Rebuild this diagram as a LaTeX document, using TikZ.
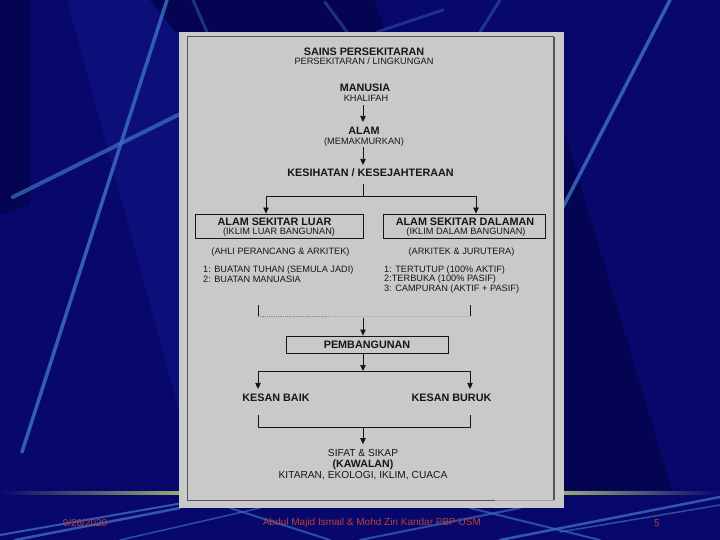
\documentclass[tikz,border=0pt]{standalone}
\usepackage{fontspec}
\setmainfont{Liberation Sans}
\usetikzlibrary{arrows.meta}
\definecolor{bg}{RGB}{8,8,108}
\definecolor{bgdark}{RGB}{4,4,82}
\definecolor{bglight}{RGB}{12,14,122}
\definecolor{streak}{RGB}{58,108,188}
\definecolor{panel}{RGB}{201,201,201}
\definecolor{frame}{RGB}{85,85,85}
\definecolor{ink}{RGB}{22,22,22}
\definecolor{olive}{RGB}{150,170,112}
\definecolor{foot}{RGB}{185,64,58}
\tikzset{
  hb/.style={font=\fontsize{10.8}{12}\selectfont\bfseries, inner sep=0pt, text height=7.7pt, text depth=0pt, text=ink},
  hr/.style={font=\fontsize{9.2}{10}\selectfont, inner sep=0pt, text height=6.6pt, text depth=0pt, text=ink},
  hrb/.style={font=\fontsize{10.2}{11}\selectfont, inner sep=0pt, text height=7.3pt, text depth=0pt, text=ink},
  hbb/.style={font=\fontsize{10.6}{11}\selectfont\bfseries, inner sep=0pt, text height=7.6pt, text depth=0pt, text=ink},
  boxed/.style={draw=ink, line width=0.8pt, inner sep=0pt},
  conn/.style={draw=ink, line width=0.8pt},
  arr/.style={conn, -{Triangle[length=6pt,width=5.5pt]}},
  streakline/.style={draw=streak, line cap=round},
  foottext/.style={font=\fontsize{10}{11}\selectfont, text=foot, inner sep=0pt}
}
\begin{document}
\begin{tikzpicture}[x=1pt,y=-1pt]
\useasboundingbox (0,0) rectangle (720,540);
% background
\fill[bg] (0,0) rectangle (720,540);
\fill[bglight] (67,0) -- (180,0) -- (180,414) -- cycle;
\fill[bgdark] (150,0) -- (375,0) -- (385,32) -- (175,32) -- cycle;
\fill[bgdark] (0,0) -- (30,0) -- (30,205) -- (0,215) -- cycle;
\fill[bgdark] (564,130) -- (672,490) -- (564,490) -- cycle;
% streaks
\draw[streakline, line width=3.5pt, opacity=0.85] (167,0) -- (22,452);
\draw[streakline, line width=4pt, opacity=0.75] (13,197) -- (180,114);
\draw[streakline, line width=3.5pt, opacity=0.85] (670,0) -- (563,207);
\draw[streakline, line width=3pt, opacity=0.45] (193,0) -- (207,32);
\draw[streakline, line width=3pt, opacity=0.45] (325,2) -- (347,32);
\draw[streakline, line width=3pt, opacity=0.4] (443,10) -- (377,32);
\draw[streakline, line width=3pt, opacity=0.45] (500,0) -- (480,32);
\draw[streakline, line width=2pt, opacity=0.8] (0,535) -- (200,500);
\draw[streakline, line width=2.5pt, opacity=0.8] (15,540) -- (180,508);
\draw[streakline, line width=1.5pt, opacity=0.7] (120,540) -- (260,508);
\draw[streakline, line width=2pt, opacity=0.7] (330,540) -- (230,508);
\draw[streakline, line width=2pt, opacity=0.7] (360,540) -- (520,508);
\draw[streakline, line width=2pt, opacity=0.7] (600,540) -- (470,508);
\draw[streakline, line width=2.5pt, opacity=0.8] (500,540) -- (720,497);
\draw[streakline, line width=1.5pt, opacity=0.7] (560,532) -- (720,505);
% footer rule
\shade[left color=bg, right color=olive] (0,491.5) rectangle (180,494.5);
\shade[left color=olive, right color=bg] (564,491.5) rectangle (720,494.5);
% panel
\fill[panel] (179,32) rectangle (564,508);
\draw[frame, line width=1pt] (495,500) -- (187,500) -- (187,37) -- (554,37);
\draw[frame, line width=1.8pt] (554,37) -- (554,500);
\draw[frame!35!panel, line width=1pt] (495,500) -- (554,500);
% content
\coordinate (ax) at (363,0);
\node[hb] (title) at (364,51.5) {SAINS PERSEKITARAN};
\node[hr] (sub) at (364,61.5) {PERSEKITARAN / LINGKUNGAN};
\node[hb] (manusia) at (365,88) {MANUSIA};
\node[hr] (khalifah) at (366,98.5) {KHALIFAH};
\node[hb] (alam) at (364,131) {ALAM};
\node[hr] (memak) at (364,141) {(MEMAKMURKAN)};
\node[hb] (kes) at (370.5,173) {KESIHATAN / KESEJAHTERAAN};
\draw[arr, shorten >=5pt] ([yshift=-3.5pt]khalifah.south -| ax) -- (alam.north -| ax);
\draw[arr, shorten >=4pt] ([yshift=-3pt]memak.south -| ax) -- (kes.north -| ax);
% split 1
\coordinate (jl) at (266,196);
\coordinate (jr) at (476,196);
\node[boxed, minimum width=168pt, minimum height=24pt] (luar) at (279,226) {};
\node[boxed, minimum width=162pt, minimum height=24pt] (dalam) at (464,226) {};
\draw[conn] ([yshift=-7pt]kes.south -| ax) -- (ax |- jl);
\draw[conn] (jl) -- (jr);
\draw[arr] (jl) -- (jl |- luar.north);
\draw[arr] (jr) -- (jr |- dalam.north);
\node[hb] (luar1) at (274.5,222) {ALAM SEKITAR LUAR};
\node[hr] (luar2) at (279,231.5) {(IKLIM LUAR BANGUNAN)};
\node[hb] (dal1) at (465,222) {ALAM SEKITAR DALAMAN};
\node[hr] (dal2) at (466,231.5) {(IKLIM DALAM BANGUNAN)};
\node[hr] (ahli) at (280.5,251.5) {(AHLI PERANCANG \& ARKITEK)};
\node[hr] (arkj) at (461.5,251.5) {(ARKITEK \& JURUTERA)};
\node[hr, anchor=west] (l1) at (203,269) {1: BUATAN TUHAN (SEMULA JADI)};
\node[hr, anchor=west] (l2) at (203,279) {2: BUATAN MANUASIA};
\node[hr, anchor=west] (r1) at (384,269) {1: TERTUTUP (100\% AKTIF)};
\node[hr, anchor=west] (r2) at (384,278.5) {2:TERBUKA (100\% PASIF)};
\node[hr, anchor=west] (r3) at (384,288) {3: CAMPURAN (AKTIF + PASIF)};
% join 1
\coordinate (b1l) at (258,305);
\coordinate (b1r) at (470,305);
\coordinate (b1y) at (0,316);
\draw[conn] (b1l) -- (b1l |- b1y);
\draw[conn] (b1r) -- (b1r |- b1y);
\draw[draw={rgb,255:red,140;green,140;blue,140}, line width=0.8pt, densely dotted] (b1l |- b1y) -- (330,316);
\draw[draw={rgb,255:red,184;green,184;blue,184}, line width=0.8pt] (330,316) -- (b1r |- b1y);
\node[boxed, hb, minimum width=162pt, minimum height=17pt] (pemb) at (367,344.5) {PEMBANGUNAN};
\coordinate (p0) at (363,318);
\draw[arr] (p0) -- (p0 |- pemb.north);
% split 2
\coordinate (kl) at (258,371);
\coordinate (kr) at (470,371);
\node[hb] (baik) at (276,398) {KESAN BAIK};
\node[hb] (buruk) at (451.5,398) {KESAN BURUK};
\draw[arr] (pemb.south -| ax) -- (ax |- kl);
\draw[conn] (kl) -- (kr);
\draw[arr, shorten >=5pt] (kl) -- (kl |- baik.north);
\draw[arr, shorten >=5pt] (kr) -- (kr |- buruk.north);
% join 2
\coordinate (c1l) at (258,415);
\coordinate (c1r) at (470,415);
\coordinate (cy) at (0,427);
\node[hrb] (sifat) at (363,452.5) {SIFAT \& SIKAP};
\node[hbb] (kaw) at (363,463.5) {(KAWALAN)};
\node[hrb] (kit) at (363,475) {KITARAN, EKOLOGI, IKLIM, CUACA};
\draw[conn] (c1l) -- (c1l |- cy) -- (c1r |- cy) -- (c1r);
\draw[arr, shorten >=4.5pt] (ax |- cy) -- (sifat.north -| ax);
% footer
\node[foottext] (date) at (85,523) {9/26/2020};
\node[foottext] (auth) at (372,523) {Abdul Majid Ismail \& Mohd Zin Kandar PBP USM};
\node[foottext] (num) at (657,523) {5};
\end{tikzpicture}
\end{document}
